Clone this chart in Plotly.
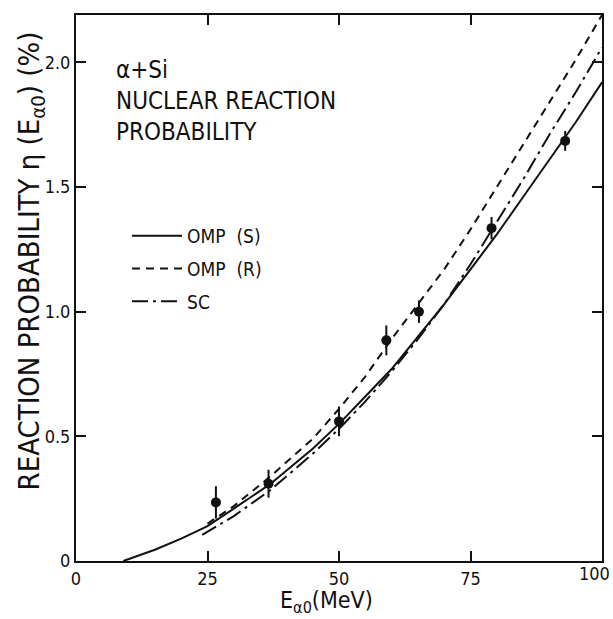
import plotly.graph_objects as go

# ---- data ----
omp_s_x = [9, 15, 20, 25, 30, 37, 45, 50, 55, 60, 65, 70, 75, 80, 85, 90, 95, 100]
omp_s_y = [0.0, 0.045, 0.09, 0.14, 0.21, 0.31, 0.45, 0.55, 0.66, 0.77, 0.90, 1.03, 1.17, 1.31, 1.46, 1.61, 1.76, 1.92]

omp_r_x = [25, 30, 37, 45, 50, 55, 60, 65, 70, 75, 80, 85, 90, 95, 100]
omp_r_y = [0.15, 0.22, 0.34, 0.49, 0.61, 0.74, 0.89, 1.03, 1.17, 1.33, 1.50, 1.67, 1.84, 2.01, 2.19]

sc_x = [24, 30, 37, 45, 50, 55, 60, 65, 70, 75, 80, 85, 90, 95, 100]
sc_y = [0.105, 0.18, 0.285, 0.43, 0.53, 0.64, 0.76, 0.89, 1.03, 1.19, 1.36, 1.53, 1.71, 1.88, 2.06]

exp_x = [26.6, 36.6, 50.0, 59.0, 65.2, 79.0, 93.0]
exp_y = [0.235, 0.31, 0.56, 0.885, 1.0, 1.335, 1.685]
exp_err = [0.065, 0.056, 0.06, 0.06, 0.045, 0.045, 0.04]

x_ticks = [0, 25, 50, 75, 100]
x_ticktext = ["0", "25", "50", "75", ""]   # last label drawn right-aligned below
x_last_label = "100"
y_ticks = [0, 0.5, 1.0, 1.5, 2.0]
y_ticktext = ["0", "0.5", "1.0", "1.5", "2.0"]

FONT = "DejaVu Sans Condensed, Liberation Sans Narrow, DejaVu Sans, sans-serif"
INK = "#111111"

fig = go.Figure()
fig.add_trace(go.Scatter(x=omp_s_x, y=omp_s_y, mode="lines", name="OMP  (S)", legendgroup="s",
                         line=dict(color=INK, width=2, dash="solid")))
fig.add_trace(go.Scatter(x=omp_r_x, y=omp_r_y, mode="lines", name="OMP  (R)", legendgroup="r",
                         line=dict(color=INK, width=2, dash="8px,6px")))
fig.add_trace(go.Scatter(x=sc_x, y=sc_y, mode="lines", name="SC", legendgroup="c",
                         line=dict(color=INK, width=2, dash="16px,5px,3px,5px")))
fig.add_trace(go.Scatter(x=exp_x, y=exp_y, mode="markers", showlegend=False,
                         marker=dict(color=INK, size=10),
                         error_y=dict(type="data", array=exp_err, visible=True,
                                      color=INK, thickness=2, width=0)))

# inset label
fig.add_annotation(xref="paper", yref="paper", x=0.073, y=0.928,
                   xanchor="left", yanchor="top", align="left", showarrow=False,
                   text="α+Si<br>NUCLEAR REACTION<br>PROBABILITY",
                   font=dict(family=FONT, size=24, color=INK))

# last x tick label, kept inside the page like the reference
fig.add_annotation(xref="paper", yref="paper", x=1.019, y=0,
                   xanchor="right", yanchor="top", showarrow=False,
                   text=x_last_label, font=dict(family=FONT, size=18, color=INK))

# axis titles as annotations for exact placement
fig.add_annotation(xref="paper", yref="paper", x=0.477, y=-0.1062,
                   xanchor="center", yanchor="bottom", showarrow=False,
                   text="E<sub>α0</sub>(MeV)",
                   font=dict(family=FONT, size=23, color=INK))
fig.add_annotation(xref="paper", yref="paper", x=-0.086, y=0.55,
                   xanchor="center", yanchor="middle", showarrow=False, textangle=-90,
                   text="REACTION PROBABILITY η (E<sub>α0</sub>) (%)",
                   font=dict(family=FONT, size=29, color=INK))

axis_common = dict(showline=True, linecolor=INK, linewidth=2, mirror="ticks",
                   ticks="inside", ticklen=10, tickwidth=1.5, tickcolor=INK,
                   showgrid=False, zeroline=False, automargin=False,
                   ticklabelstandoff=0, ticklabeloverflow="allow",
                   tickfont=dict(family=FONT, size=18, color=INK))

fig.update_layout(
    width=613, height=619,
    margin=dict(l=76, r=11, t=15, b=58),
    paper_bgcolor="white", plot_bgcolor="white",
    font=dict(family=FONT, color=INK),
    xaxis=dict(range=[0, 100], tickvals=x_ticks, ticktext=x_ticktext, **axis_common),
    yaxis=dict(range=[0, 2.19], tickvals=y_ticks, ticktext=y_ticktext, **axis_common),
    legend=dict(x=0.097, y=0.63, xanchor="left", yanchor="top", itemwidth=50,
                bgcolor="rgba(0,0,0,0)", font=dict(family=FONT, size=19, color=INK),
                tracegroupgap=5),
    showlegend=True,
)

fig.write_html("out.html", config={"displayModeBar": False},
               post_script="document.body.style.margin='0';document.body.style.overflow='hidden';")
